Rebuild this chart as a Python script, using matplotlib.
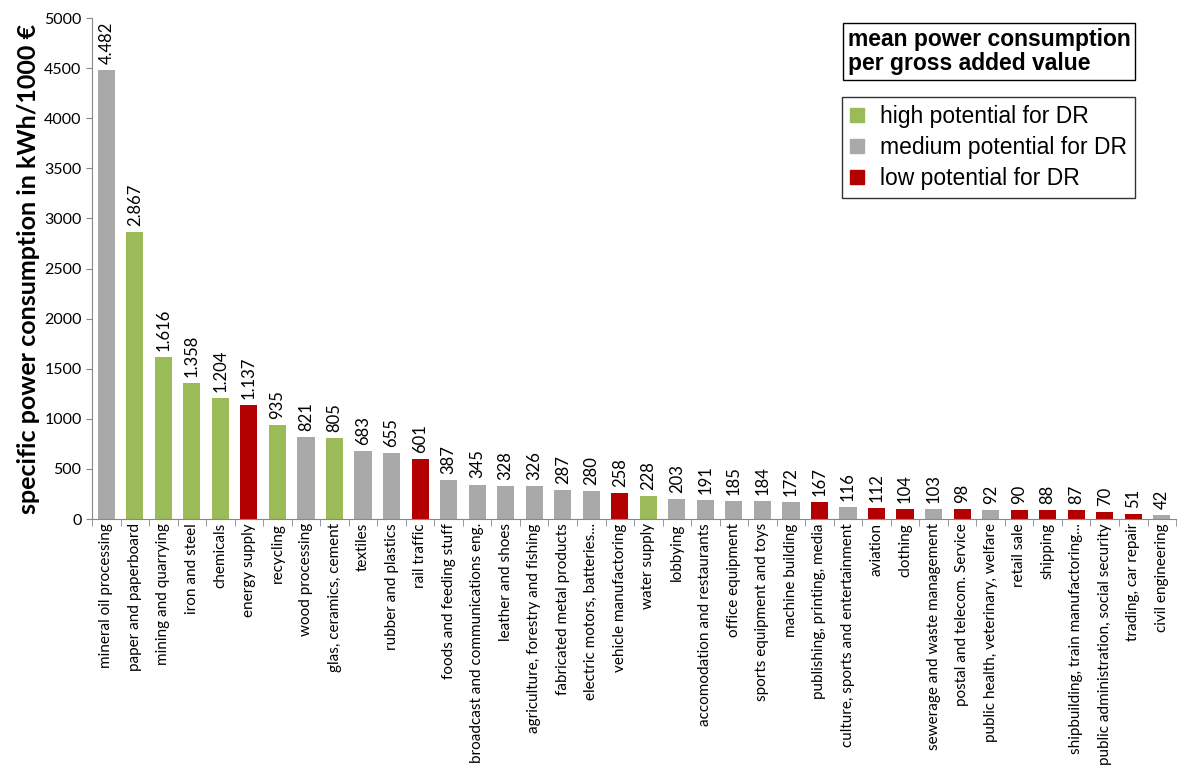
import matplotlib
matplotlib.use("Agg")
import matplotlib.pyplot as plt
from matplotlib.patches import Patch

# ── data ──────────────────────────────────────────────────────────────────────
sectors = [
    "mineral oil processing", "paper and paperboard", "mining and quarrying",
    "iron and steel", "chemicals", "energy supply", "recycling", "wood processing",
    "glas, ceramics, cement", "textiles", "rubber and plastics", "rail traffic",
    "foods and feeding stuff", "broadcast and communications eng.",
    "leather and shoes", "agriculture, forestry and fishing",
    "fabricated metal products", "electric motors, batteries...",
    "vehicle manufactoring", "water supply", "lobbying",
    "accomodation and restaurants", "office equipment",
    "sports equipment and toys", "machine building",
    "publishing, printing, media", "culture, sports and entertainment",
    "aviation", "clothing", "sewerage and waste management",
    "postal and telecom. Service", "public health, veterinary, welfare",
    "retail sale", "shipping", "shipbuilding, train manufactoring...",
    "public administration, social security", "trading, car repair",
    "civil engineering",
]
consumption = [
    4482, 2867, 1616, 1358, 1204, 1137, 935, 821, 805, 683, 655, 601,
    387, 345, 328, 326, 287, 280, 258, 228, 203, 191, 185, 184, 172,
    167, 116, 112, 104, 103, 98, 92, 90, 88, 87, 70, 51, 42,
]
# DR potential: h = high, m = medium, l = low
potential = [
    "m", "h", "h", "h", "h", "l", "h", "m", "h", "m", "m", "l",
    "m", "m", "m", "m", "m", "m", "l", "h", "m", "m", "m", "m", "m",
    "l", "m", "l", "l", "m", "l", "m", "l", "l", "l", "l", "l", "m",
]

colors = {"h": "#9BBB59", "m": "#A9A9A9", "l": "#B30000"}
legend_labels = {"h": "high potential for DR", "m": "medium potential for DR",
                 "l": "low potential for DR"}

# ── plot ──────────────────────────────────────────────────────────────────────
fig = plt.figure(figsize=(11.77, 7.69), dpi=100)
ax = fig.add_axes([0.0782, 0.325, 0.921, 0.6515])

xs = list(range(len(sectors)))
ax.bar(xs, consumption, width=0.6, color=[colors[p] for p in potential])

def fmt(v):
    return f"{v:,}".replace(",", ".")

for x, v in zip(xs, consumption):
    ax.text(x, v + 60, fmt(v), rotation=90, ha="center", va="bottom",
            fontsize=12, family="Lato")

ax.set_xlim(-0.5, len(sectors) - 0.5)
ax.set_ylim(0, 5000)
ax.set_yticks(range(0, 5001, 500))
ax.tick_params(axis="y", labelsize=11.5, length=4, color="#888888")
for lbl in ax.get_yticklabels():
    lbl.set_family("Lato")

ax.set_xticks(xs)
ax.set_xticklabels(sectors, rotation=90, fontsize=11, family="Lato")
ax.tick_params(axis="x", length=0, pad=3)
ax.set_xticks([x - 0.5 for x in xs] + [len(xs) - 0.5], minor=True)
ax.tick_params(axis="x", which="minor", length=5, color="#888888")

for side in ("top", "right"):
    ax.spines[side].set_visible(False)
for side in ("left", "bottom"):
    ax.spines[side].set_color("#888888")

ax.set_ylabel("specific power consumption in kWh/1000 €", fontsize=18,
              fontweight="bold", family="Lato", labelpad=3)

# title box + legend
fig.text(0.7205, 0.933, "mean power consumption\nper gross added value",
         fontsize=16.5, fontweight="bold", family="Liberation Sans",
         ha="left", va="center", linespacing=1.1,
         bbox=dict(boxstyle="square,pad=0.2", fc="white", ec="black", lw=1))

handles = [Patch(color=colors[k], label=legend_labels[k]) for k in ("h", "m", "l")]
fig.legend(handles=handles, loc="upper left", bbox_to_anchor=(0.7154, 0.874),
           frameon=True, fancybox=False, edgecolor="black",
           prop={"family": "Liberation Sans", "size": 16.5},
           handlelength=0.6, handleheight=0.6, handletextpad=0.7,
           labelspacing=0.35, borderpad=0.35, borderaxespad=0)

fig.savefig("out.png", dpi=100)
